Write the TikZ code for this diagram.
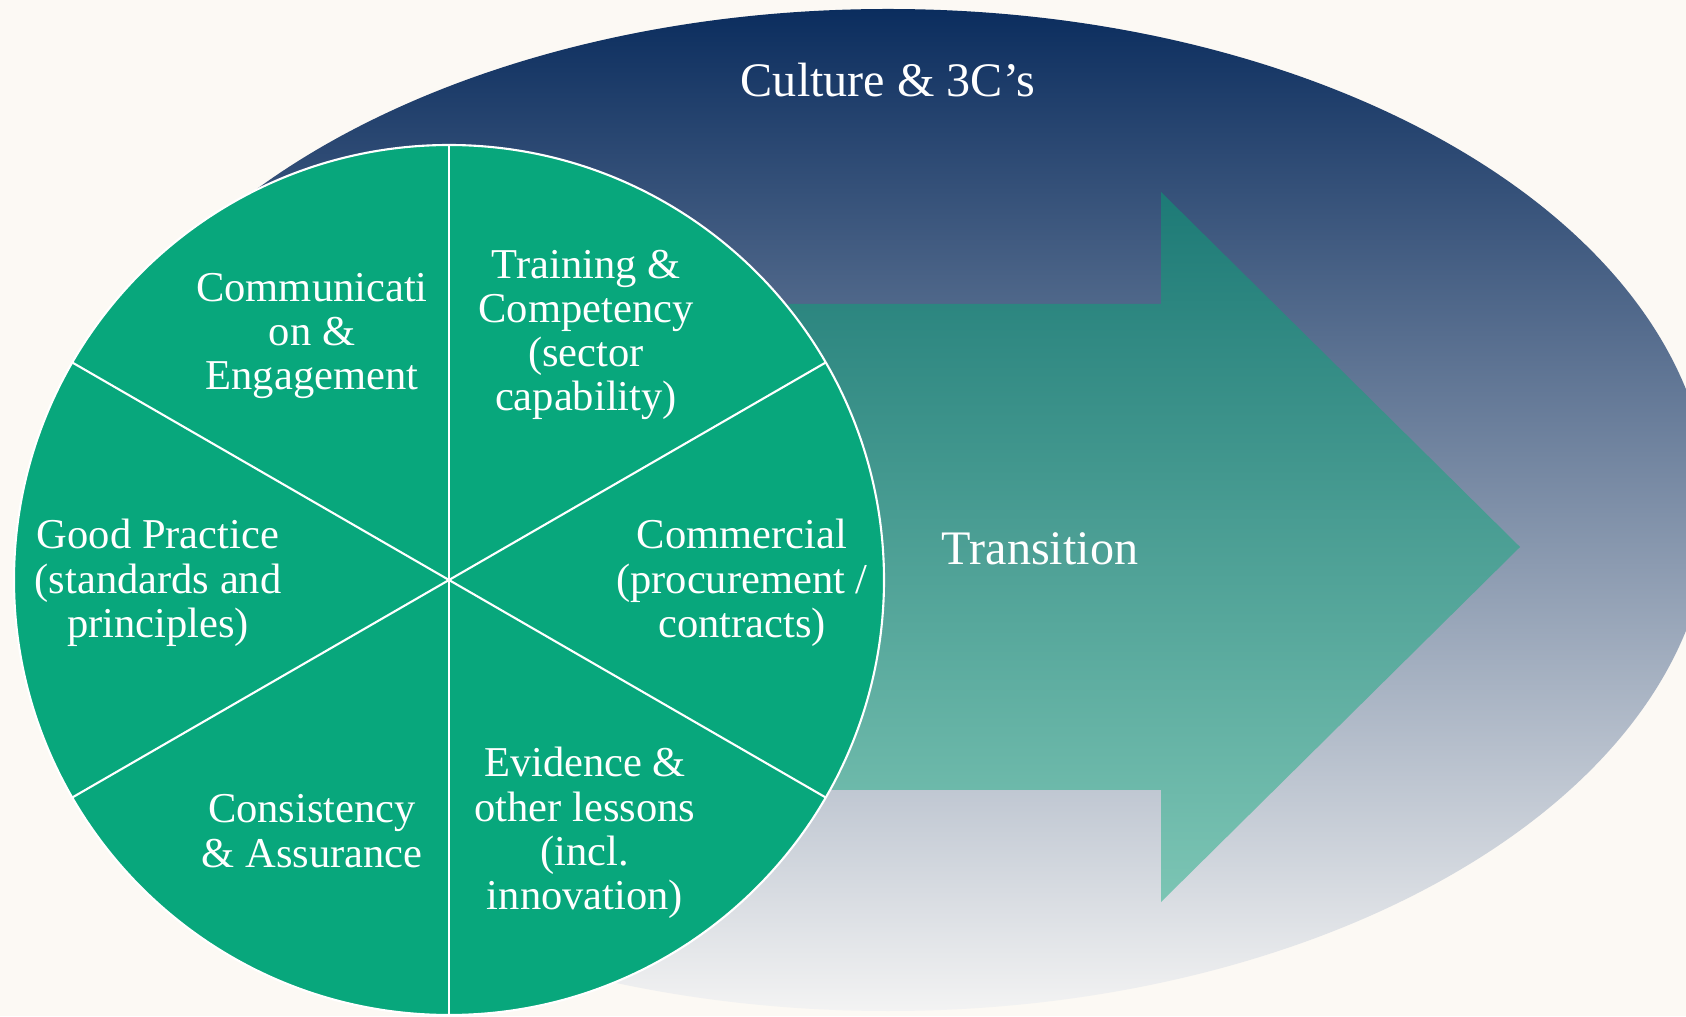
\documentclass[tikz,border=0pt]{standalone}
\usepackage{fontspec}
\setmainfont{Liberation Serif}
\usetikzlibrary{calc}
\definecolor{bgcream}{RGB}{252,249,244}
\definecolor{navytop}{RGB}{11,45,94}
\definecolor{greybottom}{RGB}{243,243,243}
\definecolor{tealtop}{RGB}{29,122,118}
\definecolor{tealbottom}{RGB}{124,197,180}
\definecolor{wheelgreen}{RGB}{8,167,124}
\tikzset{
	segtext/.style={text=white, align=center, inner sep=0pt, font=\fontsize{12.1}{12.6}\selectfont},
	bigtext/.style={text=white, align=center, inner sep=0pt, font=\fontsize{13.7}{15}\selectfont},
	spoke/.style={draw=white, line width=0.6pt}
}

\begin{document}
\begin{tikzpicture}
			%%%%% START %%%%%
			
			\useasboundingbox (0, 0) rectangle (16.86, 10.16);
			\clip (0, 0) rectangle (16.86, 10.16);
			\fill[bgcream] (0, 0) rectangle (16.86, 10.16);
			
			\shade[top color=navytop, bottom color=greybottom] (8.88, 5.06) ellipse (8.22 and 5.01);
			
			\shade[top color=tealtop, bottom color=tealbottom] (7.0, 7.12) -- (11.61, 7.12) -- (11.61, 8.24) -- (15.20, 4.69) -- (11.61, 1.14) -- (11.61, 2.26) -- (7.0, 2.26) -- cycle;
			
			\draw[fill=wheelgreen, draw=white, line width=0.6pt] (4.49, 4.36) circle (4.35);
			\foreach \ang in {30, 90, ..., 330}
				\draw[spoke] (4.49, 4.36) -- ++(\ang:4.35);
			
			\node[segtext] (comms) at (3.12, 6.80) {Communicati\\on \&\\Engagement};
			\node[segtext] (training) at (5.86, 6.81) {Training \&\\Competency\\(sector\\capability)};
			\node[segtext] (goodpractice) at (1.58, 4.33) {Good Practice\\(standards and\\principles)};
			\node[segtext] (commercial) at (7.42, 4.33) {Commercial\\(procurement /\\contracts)};
			\node[segtext] (consistency) at (3.12, 1.85) {Consistency\\\& Assurance};
			\node[segtext] (evidence) at (5.85, 1.83) {Evidence \&\\other lessons\\(incl.\\innovation)};
			
			\node[bigtext] (culture) at (8.88, 9.36) {Culture \& 3C's};
			\node[bigtext] (transition) at (10.40, 4.67) {Transition};
			
			%%%%% END %%%%%
\end{tikzpicture}
\end{document}
